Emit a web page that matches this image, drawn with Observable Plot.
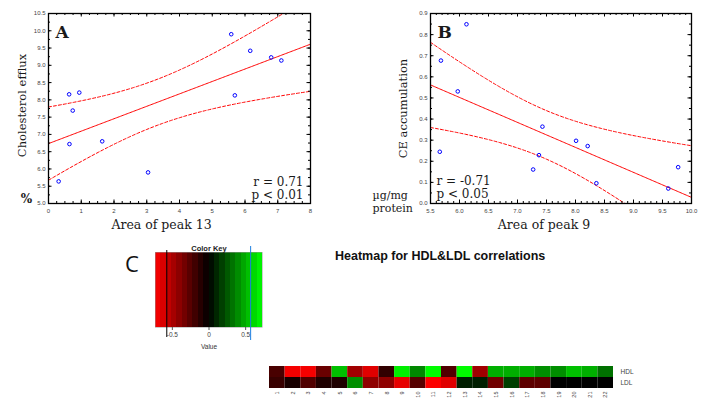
<!DOCTYPE html>
<html><head><meta charset="utf-8">
<script src="https://cdn.jsdelivr.net/npm/d3@7"></script>
<script src="https://cdn.jsdelivr.net/npm/@observablehq/plot@0.6"></script>
<style>
body{margin:0;background:#fff;}
#root{position:relative;width:704px;height:400px;overflow:hidden;background:#fff;}
.abs{position:absolute;}
.abs svg{display:block;overflow:visible;}
.tl g[aria-label="x-axis tick label"] text,.tl g[aria-label="y-axis tick label"] text{fill:#444;}
</style></head><body><div id="root"></div>
<script>
// ---------- Panel A: cholesterol efflux vs area of peak 13 ----------
const peak13 = [0.31,0.63,0.94,0.74,0.64,1.64,3.04,5.58,5.69,6.16,6.80,7.11];
const efflux = [5.64,8.16,8.21,7.69,6.72,6.80,5.90,9.90,8.13,9.42,9.23,9.14];
const aXTicks = [0,1,2,3,4,5,6,7,8];
const aYTicks = [5.0,5.5,6.0,6.5,7.0,7.5,8.0,8.5,9.0,9.5,10.0,10.5];

// ---------- Panel B: CE accumulation vs area of peak 9 ----------
const peak9 = [5.68,6.12,5.97,5.66,7.43,7.37,7.27,8.01,8.21,8.36,9.60,9.77];
const ceAccum = [0.677,0.849,0.531,0.245,0.364,0.229,0.161,0.297,0.272,0.096,0.071,0.172];
const bXTicks = [5.5,6.0,6.5,7.0,7.5,8.0,8.5,9.0,9.5,10.0];
const bYTicks = [0.0,0.1,0.2,0.3,0.4,0.5,0.6,0.7,0.8,0.9];

// ---------- Panel C: heatmap ----------
const lipoproteins = ["HDL","LDL"];
const peakIds = ["1","2","3","4","5","6","7","8","9","10","11","12","13","14","15","16","17","18","19","20","21","22"];
const hdlCorr = [-0.21,-0.70,-0.70,-0.30,0.55,-0.46,-0.64,-0.14,0.68,0.39,0.72,-0.23,0.72,-0.46,0.50,0.50,0.50,0.41,0.41,0.55,0.50,0.32];
const ldlCorr = [-0.16,-0.07,-0.23,-0.09,-0.09,0.41,-0.41,-0.41,-0.66,-0.25,-0.72,-0.64,0.09,0.09,-0.32,0.18,-0.27,-0.27,0.0,0.0,0.0,0.0];
const keyBreaks = [-0.73,-0.657,-0.584,-0.511,-0.438,-0.365,-0.292,-0.219,-0.146,-0.073,0,0.073,0.146,0.219,0.292,0.365,0.438,0.511,0.584,0.657,0.73];
const keyTicks = [-0.5,0,0.5];
const keyBlackLine = [-0.576];
const keyBlueLine = [0.568];

const SERIF = "'DejaVu Serif', serif";
const SANS = "'Liberation Sans', Arial, sans-serif";
const root = document.getElementById("root");
function place(node, left, top, cls){
  const d = document.createElement("div");
  d.className = "abs " + (cls||"");
  d.style.left = left + "px"; d.style.top = top + "px";
  d.appendChild(node); root.appendChild(d); return d;
}

function fitCurves(xs, ys, x0, x1){
  const n = xs.length, mx = d3.mean(xs), my = d3.mean(ys);
  let sxx = 0, sxy = 0;
  xs.forEach((x,i)=>{ sxx += (x-mx)**2; sxy += (x-mx)*(ys[i]-my); });
  const b = sxy/sxx, a = my - b*mx;
  let ss = 0; xs.forEach((x,i)=>{ ss += (ys[i]-a-b*x)**2; });
  const s = Math.sqrt(ss/(n-2)), t = 2.228; // t(0.975, n-2 = 10)
  return d3.range(0,201).map(i=>{
    const x = x0 + (x1-x0)*i/200;
    const se = s*Math.sqrt(1/n + (x-mx)**2/sxx);
    const y = a + b*x;
    return {x, y, lo: y - t*se, hi: y + t*se};
  });
}

function scatter(cfg){
  const {xs, ys, xDomain, yDomain, xMajor, yMajor, xMinorStep, yMinorStep, width, height, ml, mr, mt, mb} = cfg;
  const pts = xs.map((x,i)=>({x, y: ys[i]}));
  const fit = fitCurves(xs, ys, xDomain[0], xDomain[1]);
  const fw = width-ml-mr, fh = height-mt-mb;
  const xMinor = d3.range(xDomain[0], xDomain[1]+1e-9, xMinorStep);
  const yMinor = d3.range(yDomain[0], yDomain[1]+1e-9, yMinorStep);
  const tk = {stroke:"#000", strokeWidth:1};
  return Plot.plot({
    width, height, marginLeft: ml, marginRight: mr, marginTop: mt, marginBottom: mb,
    style: {background:"transparent", fontFamily: SANS},
    x: {domain: xDomain}, y: {domain: yDomain},
    marks: [
      Plot.line(fit, {x:"x", y:"hi", stroke:"#ff0000", strokeWidth:1, strokeDasharray:"3,2", clip:true}),
      Plot.line(fit, {x:"x", y:"lo", stroke:"#ff0000", strokeWidth:1, strokeDasharray:"3,2", clip:true}),
      Plot.line(fit, {x:"x", y:"y", stroke:"#ff0000", strokeWidth:1, clip:true}),
      Plot.dot(pts, {x:"x", y:"y", r:1.8, stroke:"#0000ff", strokeWidth:1, fill:"none"}),
      Plot.tickX(xMinor, {x:d=>d, insetTop: fh-2, ...tk}),
      Plot.tickX(xMinor, {x:d=>d, insetBottom: fh-2, ...tk}),
      Plot.tickY(yMinor, {y:d=>d, insetRight: fw-2, ...tk}),
      Plot.tickY(yMinor, {y:d=>d, insetLeft: fw-2, ...tk}),
      Plot.tickX(xMajor, {x:d=>d, insetTop: fh-3.5, ...tk}),
      Plot.tickX(xMajor, {x:d=>d, insetBottom: fh-3.5, ...tk}),
      Plot.tickY(yMajor, {y:d=>d, insetRight: fw-3.5, ...tk}),
      Plot.tickY(yMajor, {y:d=>d, insetLeft: fw-3.5, ...tk}),
      Plot.frame({stroke:"#000", strokeWidth:1.3}),
      Plot.axisX({ticks: xMajor, tickSize:0, tickPadding:5, tickFormat: cfg.xFmt, fontSize:6, label:null}),
      Plot.axisY({ticks: yMajor, tickSize:0, tickPadding:3, tickFormat: cfg.yFmt, fontSize:6, label:null}),
      ...cfg.texts
    ]
  });
}
const T = (s, o) => Plot.text([s], {text: d=>d, fontFamily: SERIF, fill:"#1a1a1a", ...o});

place(scatter({
  xs: peak13, ys: efflux, xDomain:[0,8], yDomain:[5,10.5], xMajor: aXTicks, yMajor: aYTicks,
  xMinorStep: 0.25, yMinorStep: 0.25, width:360, height:240, ml:48, mr:50, mt:13, mb:37,
  xFmt: d=>String(d), yFmt: d=>d.toFixed(1),
  texts: [
    T("A", {frameAnchor:"top-left", textAnchor:"start", lineAnchor:"top", dx:7, dy:12, fontSize:17, fontWeight:"bold"}),
    T("r = 0.71\np < 0.01", {frameAnchor:"bottom-right", textAnchor:"end", lineAnchor:"bottom", dx:-7, dy:-5, fontSize:12, lineHeight:1.08}),
    T("Area of peak 13", {frameAnchor:"bottom", textAnchor:"middle", dx:-18, dy:25, fontSize:12.5}),
    T("Cholesterol efflux", {frameAnchor:"left", textAnchor:"middle", dx:-26, dy:-3, rotate:-90, fontSize:11.5}),
    T("%", {frameAnchor:"bottom-left", textAnchor:"middle", dx:-22, dy:-1, fontSize:12, fontWeight:"bold"})
  ]
}), 0, 0, "tl");

place(scatter({
  xs: peak9, ys: ceAccum, xDomain:[5.5,10], yDomain:[0,0.9], xMajor: bXTicks, yMajor: bYTicks,
  xMinorStep: 0.1, yMinorStep: 0.05, width:344, height:240, ml:70, mr:13, mt:13, mb:37,
  xFmt: d=>d.toFixed(1), yFmt: d=>d.toFixed(1),
  texts: [
    T("B", {frameAnchor:"top-left", textAnchor:"start", lineAnchor:"top", dx:7, dy:12, fontSize:17, fontWeight:"bold"}),
    T("r = -0.71\np < 0.05", {frameAnchor:"bottom-left", textAnchor:"start", lineAnchor:"bottom", dx:6, dy:-6, fontSize:12, lineHeight:1.08}),
    T("Area of peak 9", {frameAnchor:"bottom", textAnchor:"middle", dx:-17, dy:25, fontSize:12.5}),
    T("CE accumulation", {frameAnchor:"left", textAnchor:"middle", dx:-27, rotate:-90, fontSize:11.5}),
    T("\u00b5g/mg\nprotein", {frameAnchor:"bottom-left", textAnchor:"start", lineAnchor:"bottom", dx:-58, dy:8, fontSize:11, lineHeight:1.1})
  ]
}), 360, 0, "tl");

// ---------- Panel C ----------
const colorScale = {type:"linear", domain:[-0.73,0,0.73], range:["#ff0000","#000000","#00ff00"], interpolate:"rgb"};
const keyBands = keyBreaks.slice(0,-1).map((b,i)=>({x1:b, x2:keyBreaks[i+1], v:(b+keyBreaks[i+1])/2}));
place(Plot.plot({
  width:120, height:118, marginLeft:5, marginRight:8, marginTop:14, marginBottom:29,
  style:{background:"transparent", fontFamily: SANS},
  x:{domain:[-0.73,0.73]}, color: colorScale,
  marks:[
    Plot.rect(keyBands, {x1:"x1", x2:"x2", fill:"v", shapeRendering:"crispEdges"}),
    Plot.frame({stroke:"#999", strokeWidth:0.5}),
    Plot.ruleX(keyBlackLine, {x:d=>d, stroke:"#000", strokeWidth:1, insetTop:-2, insetBottom:-10}),
    Plot.ruleX(keyBlueLine, {x:d=>d, stroke:"#1e7fe0", strokeWidth:1, insetTop:-6, insetBottom:-13}),
    Plot.axisX({ticks:keyTicks, tickSize:3, tickPadding:2, fontSize:6.5, tickFormat:d=>String(d), label:null, stroke:"#555"}),
    Plot.text(["Color Key"], {text:d=>d, frameAnchor:"top", textAnchor:"middle", dy:-7, fontSize:7.5, fontWeight:"bold", fill:"#222"}),
    Plot.text(["Value"], {text:d=>d, frameAnchor:"bottom", textAnchor:"middle", dy:21, fontSize:6.5, fill:"#333"})
  ]
}), 150, 238, "tl");

const cells = [];
peakIds.forEach((p,i)=>{ cells.push({peak:p, lp:"HDL", v:hdlCorr[i]}); cells.push({peak:p, lp:"LDL", v:ldlCorr[i]}); });
place(Plot.plot({
  width:444, height:40, marginLeft:9, marginRight:91, marginTop:6, marginBottom:12,
  style:{background:"transparent", fontFamily: SANS},
  x:{domain: peakIds, padding:0, round:false}, y:{domain: lipoproteins, padding:0, round:false}, color: colorScale,
  marks:[
    Plot.cell(cells, {x:"peak", y:"lp", fill:"v", inset:0}),
    Plot.axisX({tickSize:0, tickPadding:3, tickRotate:-90, fontSize:5.5, label:null}),
    Plot.axisY({anchor:"right", tickSize:0, tickPadding:7, fontSize:6.5, label:null})
  ]
}), 260, 360, "tl");

const cLab = document.createElement("div");
cLab.textContent = "C";
cLab.style.cssText = "font-family:'Open Sans',sans-serif;font-size:22px;color:#111;line-height:1;";
place(cLab, 125, 252);
const hTitle = document.createElement("div");
hTitle.textContent = "Heatmap for HDL&LDL correlations";
hTitle.style.cssText = "font-family:Arial,'Liberation Sans',sans-serif;font-weight:bold;font-size:12.5px;color:#111;line-height:1;white-space:nowrap;";
place(hTitle, 335, 250);
</script></body></html>
